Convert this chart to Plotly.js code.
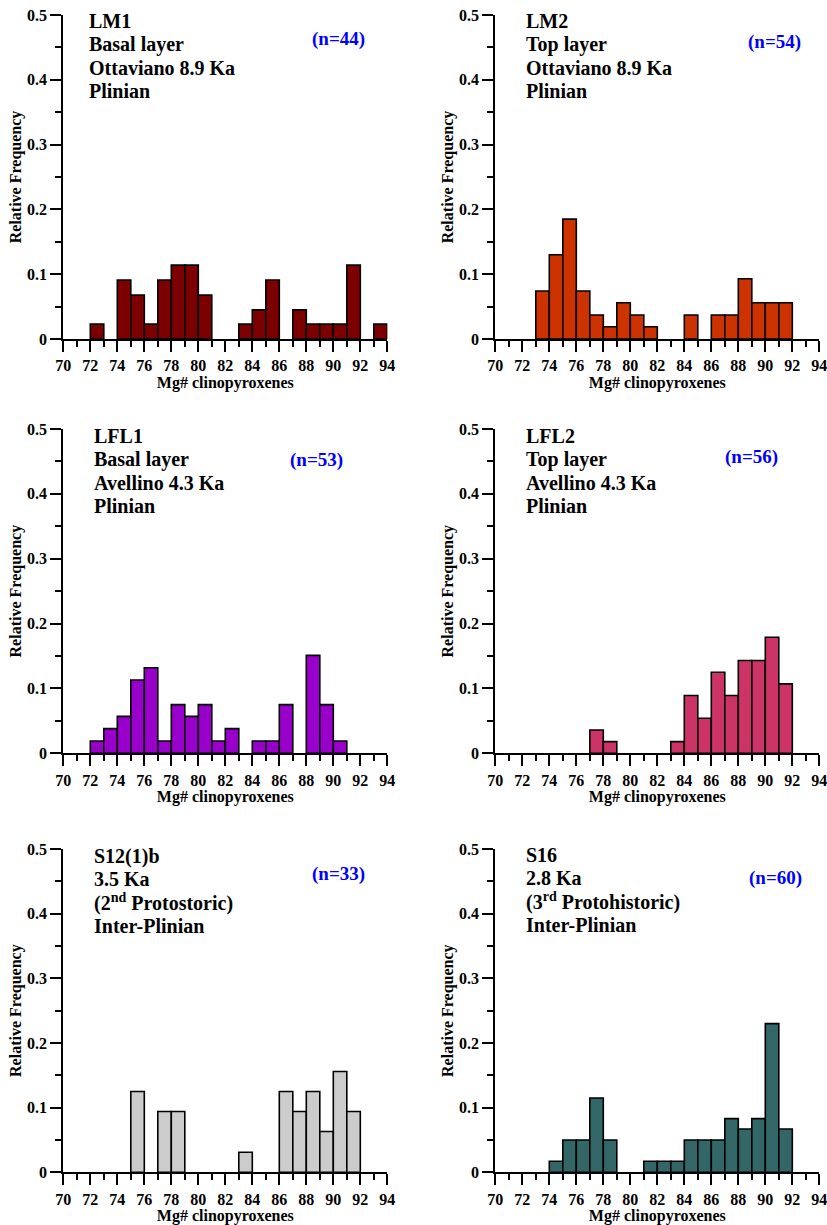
<!DOCTYPE html>
<html>
<head>
<meta charset="utf-8">
<script src="https://cdn.plot.ly/plotly-3.0.1.min.js"></script>
<style>
  html, body { margin: 0; padding: 0; background: #ffffff; overflow: hidden; }
  #chart { width: 827px; height: 1225px; }
</style>
</head>
<body>
<div id="chart"></div>
<script>
// Left edges of the 1-unit Mg# bins (70-71 ... 93-94)
const binStart = [70, 71, 72, 73, 74, 75, 76, 77, 78, 79, 80, 81,
                  82, 83, 84, 85, 86, 87, 88, 89, 90, 91, 92, 93];

// Relative frequency of clinopyroxene Mg# in each bin, one array per sample
const freqLM1  = [0, 0, 0.023, 0, 0.091, 0.068, 0.023, 0.091, 0.114, 0.114, 0.068, 0,
                  0, 0.023, 0.045, 0.091, 0, 0.045, 0.023, 0.023, 0.023, 0.114, 0, 0.023];
const freqLM2  = [0, 0, 0, 0.074, 0.130, 0.185, 0.074, 0.037, 0.019, 0.056, 0.037, 0.019,
                  0, 0, 0.037, 0, 0.037, 0.037, 0.093, 0.056, 0.056, 0.056, 0, 0];
const freqLFL1 = [0, 0, 0.019, 0.038, 0.057, 0.113, 0.132, 0.019, 0.075, 0.057, 0.075, 0.019,
                  0.038, 0, 0.019, 0.019, 0.075, 0, 0.151, 0.075, 0.019, 0, 0, 0];
const freqLFL2 = [0, 0, 0, 0, 0, 0, 0, 0.036, 0.018, 0, 0, 0,
                  0, 0.018, 0.089, 0.054, 0.125, 0.089, 0.143, 0.143, 0.179, 0.107, 0, 0];
const freqS12  = [0, 0, 0, 0, 0, 0.125, 0, 0.094, 0.094, 0, 0, 0,
                  0, 0.031, 0, 0, 0.125, 0.094, 0.125, 0.063, 0.156, 0.094, 0, 0];
const freqS16  = [0, 0, 0, 0, 0.017, 0.050, 0.050, 0.115, 0.050, 0, 0, 0.017,
                  0.017, 0.017, 0.050, 0.050, 0.050, 0.083, 0.067, 0.083, 0.230, 0.067, 0, 0];

// Sample descriptions (one entry per text line) and analysis counts
const sampleLines = [
  ["LM1", "Basal layer", "Ottaviano 8.9 Ka", "Plinian"],
  ["LM2", "Top layer", "Ottaviano 8.9 Ka", "Plinian"],
  ["LFL1", "Basal layer", "Avellino 4.3 Ka", "Plinian"],
  ["LFL2", "Top layer", "Avellino 4.3 Ka", "Plinian"],
  ["S12(1)b", "3.5 Ka", "(2<sup>nd</sup> Protostoric)", "Inter-Plinian"],
  ["S16", "2.8 Ka", "(3<sup>rd</sup> Protohistoric)", "Inter-Plinian"]
];
const countText = ["(n=44)", "(n=54)", "(n=53)", "(n=56)", "(n=33)", "(n=60)"];

const xTickVals = [70, 72, 74, 76, 78, 80, 82, 84, 86, 88, 90, 92, 94];
const yTickVals = [0, 0.1, 0.2, 0.3, 0.4, 0.5];
const yTickText = ["0", "0.1", "0.2", "0.3", "0.4", "0.5"];

const series = [freqLM1, freqLM2, freqLFL1, freqLFL2, freqS12, freqS16];
const barColors = ["#7d0000", "#cc3300", "#9900cc", "#cc3366", "#cccccc", "#336666"];

// Panel placement, given in pixels and turned into paper fractions
const FIG_W = 827;
const FIG_H = 1225;
const colPx = [[63.3, 387.3], [495.3, 819.3]];
const rowPx = [[15, 339], [429, 753.3], [849, 1172.3]];
const colDomains = colPx.map(c => [c[0] / FIG_W, c[1] / FIG_W]);
const rowDomains = rowPx.map(r => [1 - r[1] / FIG_H, 1 - r[0] / FIG_H]);

// Text placement inside each panel (axis-domain fractions)
const descX = [0.072, 0.089, 0.089, 0.089, 0.089, 0.089];
const descFirstY = [0.981, 0.981, 0.978, 0.978, 0.978, 0.981];
const lineStep = 0.0719;
const countX = [0.937, 0.950, 0.869, 0.879, 0.937, 0.953];
const countY = [0.926, 0.917, 0.904, 0.914, 0.923, 0.910];

const serif = "'Liberation Serif', 'Times New Roman', serif";
const tickFont = { family: serif, size: 16, color: "#000", weight: "bold" };
const titleFont = { family: serif, size: 16, color: "#000", weight: "bold" };

const traces = [];
const layout = {
  width: FIG_W,
  height: FIG_H,
  margin: { l: 0, r: 0, t: 0, b: 0 },
  paper_bgcolor: "#ffffff",
  plot_bgcolor: "#ffffff",
  showlegend: false,
  bargap: 0,
  annotations: []
};

series.forEach((freq, i) => {
  const suffix = i === 0 ? "" : String(i + 1);
  const xName = "x" + suffix;
  const yName = "y" + suffix;

  // Only non-empty bins are drawn as bars
  const xs = [], ys = [];
  freq.forEach((v, k) => {
    if (v > 0) { xs.push(binStart[k]); ys.push(v); }
  });

  traces.push({
    type: "bar",
    x: xs,
    y: ys,
    offset: 0,
    width: 1,
    xaxis: xName,
    yaxis: yName,
    marker: { color: barColors[i], line: { color: "#000000", width: 1.6 } },
    hoverinfo: "x+y"
  });

  const col = i % 2;
  const row = Math.floor(i / 2);

  layout["xaxis" + suffix] = {
    domain: colDomains[col],
    anchor: yName,
    range: [70, 94],
    tickmode: "array",
    tickvals: xTickVals,
    ticks: "outside",
    ticklen: 11,
    tickwidth: 2,
    tickcolor: "#000",
    minor: { ticks: "outside", ticklen: 6, tickwidth: 2, tickcolor: "#000", dtick: 1, tick0: 70 },
    showline: true,
    linecolor: "#000",
    linewidth: 2,
    showgrid: false,
    zeroline: false,
    tickfont: tickFont,
    ticklabeloverflow: "allow",
    title: { text: "Mg# clinopyroxenes", font: titleFont, standoff: 1 },
    fixedrange: true
  };

  layout["yaxis" + suffix] = {
    domain: rowDomains[row],
    anchor: xName,
    range: [0, 0.5],
    tickmode: "array",
    tickvals: yTickVals,
    ticktext: yTickText,
    ticks: "outside",
    ticklen: 11,
    tickwidth: 2,
    tickcolor: "#000",
    minor: { ticks: "outside", ticklen: 6, tickwidth: 2, tickcolor: "#000", dtick: 0.05, tick0: 0 },
    showline: true,
    linecolor: "#000",
    linewidth: 2,
    showgrid: false,
    zeroline: false,
    tickfont: tickFont,
    ticklabeloverflow: "allow",
    title: { text: "Relative Frequency", font: titleFont, standoff: 1 },
    fixedrange: true
  };

  sampleLines[i].forEach((line, k) => {
    layout.annotations.push({
      xref: xName + " domain",
      yref: yName + " domain",
      x: descX[i],
      y: descFirstY[i] - k * lineStep,
      xanchor: "left",
      yanchor: "middle",
      align: "left",
      showarrow: false,
      text: line,
      font: { family: serif, size: 20, color: "#000", weight: "bold" }
    });
  });

  layout.annotations.push({
    xref: xName + " domain",
    yref: yName + " domain",
    x: countX[i],
    y: countY[i],
    xanchor: "right",
    yanchor: "middle",
    showarrow: false,
    text: countText[i],
    font: { family: serif, size: 19, color: "#0000ff", weight: "bold" }
  });
});

Plotly.newPlot("chart", traces, layout, { displayModeBar: false, staticPlot: true });
</script>
</body>
</html>
